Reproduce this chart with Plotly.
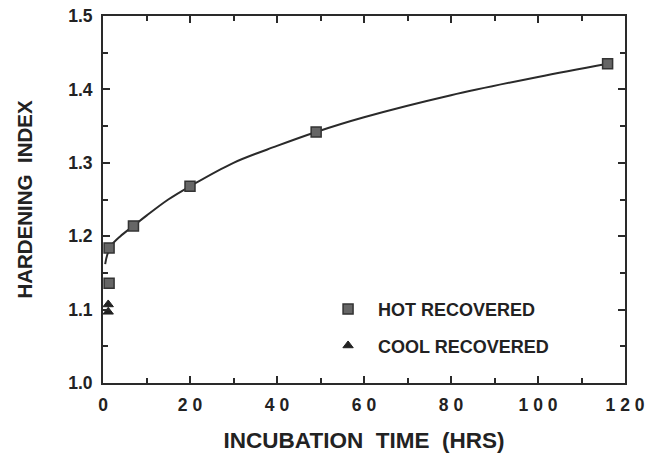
import plotly.graph_objects as go

# Data
hot_x = [1.4, 1.4, 7, 20, 49, 116]
hot_y = [1.184, 1.136, 1.214, 1.268, 1.342, 1.435]

cool_x = [1.2, 1.2]
cool_y = [1.107, 1.097]

fit_x = [0.5, 1, 2, 4, 7, 10, 15, 20, 30, 40, 49, 60, 80, 100, 116]
fit_y = [1.162, 1.175, 1.188, 1.200, 1.214, 1.228, 1.250, 1.268, 1.300,
         1.323, 1.342, 1.362, 1.392, 1.417, 1.435]

x_tickvals = [0, 20, 40, 60, 80, 100, 120]
x_ticktext = ["0", "2 0", "4 0", "6 0", "8 0", "1 0 0", "1 2 0"]
y_tickvals = [1.0, 1.1, 1.2, 1.3, 1.4, 1.5]
y_ticktext = ["1.0", "1.1", "1.2", "1.3", "1.4", "1.5"]

font_family = "Liberation Sans, Arial, sans-serif"
ink = "#2a2a2a"
nb = "\u00a0"

fig = go.Figure()
fig.add_trace(go.Scatter(x=fit_x, y=fit_y, mode="lines", line=dict(color=ink, width=2, shape="spline"),
                         showlegend=False, hoverinfo="skip"))
fig.add_trace(go.Scatter(x=hot_x, y=hot_y, mode="markers", name="HOT RECOVERED",
                         legendgroup="a",
                         marker=dict(symbol="square", size=10, color="#666666",
                                     line=dict(color="#333333", width=1.5))))
fig.add_trace(go.Scatter(x=cool_x, y=cool_y, mode="markers", name="COOL RECOVERED",
                         legendgroup="b",
                         marker=dict(symbol="triangle-up", size=9, color="#222222",
                                     line=dict(color="#222222", width=1))))

axis_common = dict(showgrid=False, zeroline=False, showline=True, linecolor=ink, linewidth=2,
                   mirror="allticks", ticks="inside", tickcolor=ink, tickwidth=1.5, ticklen=7,
                   automargin=False,
                   tickfont=dict(family=font_family, size=17.5, color="#222222", weight="bold"))

fig.update_layout(
    width=660, height=453,
    margin=dict(l=103, r=35, t=16, b=70),
    paper_bgcolor="white", plot_bgcolor="white",
    font=dict(family=font_family, color="#222222"),
    xaxis=dict(range=[0, 120], tickvals=x_tickvals, ticktext=x_ticktext, ticklabelstandoff=5,
               minor=dict(dtick=10, ticks="inside", ticklen=5, tickcolor=ink, tickwidth=1.5),
               title=dict(text="INCUBATION" + nb * 2 + "TIME" + nb * 2 + "(HRS)", standoff=19,
                          font=dict(family=font_family, size=22.5, color="#222222", weight="bold")),
               **axis_common),
    yaxis=dict(range=[1.0, 1.5], tickvals=y_tickvals, ticktext=y_ticktext, ticklabelstandoff=5,
               minor=dict(dtick=0.05, ticks="inside", ticklen=5, tickcolor=ink, tickwidth=1.5),
               title=dict(text="HARDENING" + nb * 2 + "INDEX", standoff=30,
                          font=dict(family=font_family, size=20.5, color="#222222", weight="bold")),
               **axis_common),
    legend=dict(x=0.412, y=0.251, xanchor="left", yanchor="top", traceorder="grouped",
                tracegroupgap=10, itemwidth=50, bgcolor="rgba(0,0,0,0)",
                font=dict(family=font_family, size=18, color="#222222", weight="bold")),
)

fig.write_html("out.html")
